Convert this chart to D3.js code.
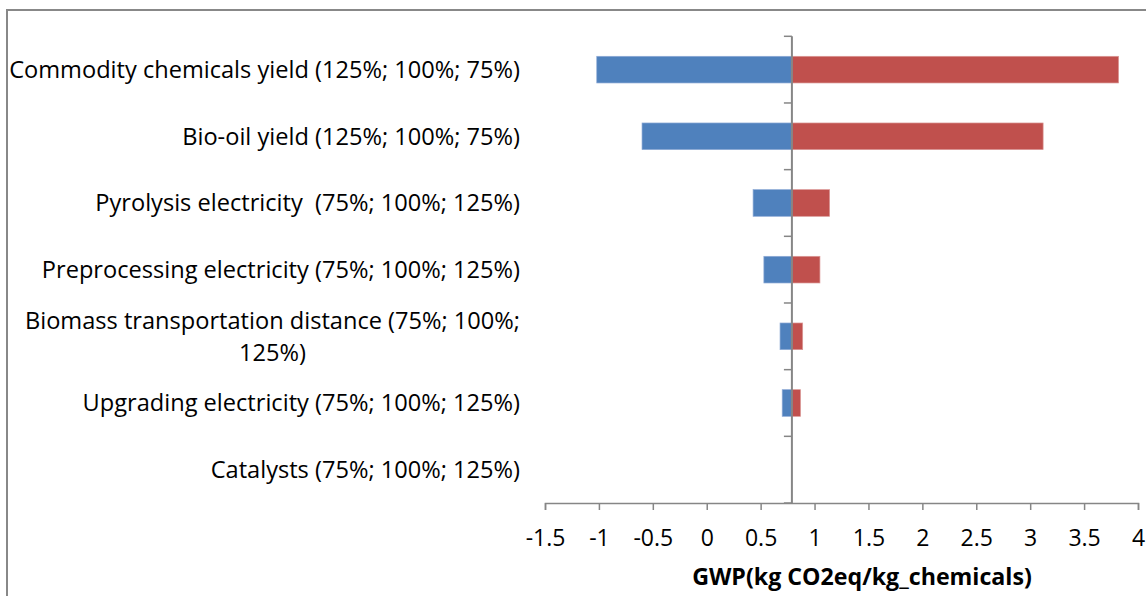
<!DOCTYPE html>
<html><head><meta charset="utf-8">
<script src="https://cdnjs.cloudflare.com/ajax/libs/d3/7.8.5/d3.min.js"></script>
<style>body{margin:0;background:#fff}svg{display:block}text{white-space:pre}</style>
</head><body>
<svg id="c" width="1146" height="596"></svg>
<script>
const categories = [
  "Commodity chemicals yield (125%; 100%; 75%)",
  "Bio-oil yield (125%; 100%; 75%)",
  "Pyrolysis electricity  (75%; 100%; 125%)",
  "Preprocessing electricity (75%; 100%; 125%)",
  "Biomass transportation distance (75%; 100%; 125%)",
  "Upgrading electricity (75%; 100%; 125%)",
  "Catalysts (75%; 100%; 125%)"
];
const labelLines = [
  ["Commodity chemicals yield (125%; 100%; 75%)"],
  ["Bio-oil yield (125%; 100%; 75%)"],
  ["Pyrolysis electricity  (75%; 100%; 125%)"],
  ["Preprocessing electricity (75%; 100%; 125%)"],
  ["Biomass transportation distance (75%; 100%;", "125%)"],
  ["Upgrading electricity (75%; 100%; 125%)"],
  ["Catalysts (75%; 100%; 125%)"]
];
const baseline = 0.79;
const lowValues  = [-1.02, -0.60, 0.43, 0.53, 0.68, 0.70, 0.79];
const highValues = [3.82, 3.12, 1.14, 1.05, 0.89, 0.87, 0.79];
const tickValues = [-1.5, -1, -0.5, 0, 0.5, 1, 1.5, 2, 2.5, 3, 3.5, 4];
const tickLabels = ["-1.5", "-1", "-0.5", "0", "0.5", "1", "1.5", "2", "2.5", "3", "3.5", "4"];
const axisTitle = "GWP(kg CO2eq/kg_chemicals)";

const svg = d3.select("#c");
const FONT = "'Open Sans', 'Liberation Sans', sans-serif";
const axisColor = "#868686";

// frame
svg.append("path").attr("d", "M7,597 L7,10 L1147,10")
  .attr("fill", "none").attr("stroke", "#888").attr("stroke-width", 2);

const x = d3.scaleLinear().domain([-1.5, 4]).range([545, 1138]);
const y = d3.scaleBand().domain(categories).range([36.3, 503]).paddingInner(0.6).paddingOuter(0.3);

// bars
const data = categories.map((c, i) => ({c, lo: lowValues[i], hi: highValues[i], lines: labelLines[i]}));
svg.append("g").selectAll("rect").data(data).join("rect")
  .attr("x", d => x(Math.min(d.lo, baseline)))
  .attr("width", d => Math.abs(x(baseline) - x(d.lo)))
  .attr("y", d => y(d.c)).attr("height", y.bandwidth())
  .attr("fill", "#4F81BD").attr("stroke", "#8EAAD6").attr("stroke-width", 0.7);
svg.append("g").selectAll("rect").data(data).join("rect")
  .attr("x", d => x(baseline))
  .attr("width", d => Math.abs(x(d.hi) - x(baseline)))
  .attr("y", d => y(d.c)).attr("height", y.bandwidth())
  .attr("fill", "#C0504D").attr("stroke", "#DA9896").attr("stroke-width", 0.7);

// x axis
const xAxis = d3.axisBottom(x).tickValues(tickValues).tickSize(7)
  .tickFormat((d, i) => tickLabels[i]);
const gx = svg.append("g").attr("transform", "translate(0,503)").call(xAxis);
gx.select(".domain").attr("stroke", axisColor).attr("stroke-width", 1.5);
gx.selectAll(".tick line").attr("stroke", axisColor).attr("stroke-width", 1.5);
gx.selectAll(".tick text").attr("fill", "#000").attr("font-family", FONT)
  .attr("font-size", 23).attr("dy", null).attr("y", 43);

// vertical category axis at baseline
const vx = x(baseline);
svg.append("line").attr("x1", vx).attr("x2", vx).attr("y1", y.range()[0]).attr("y2", 503)
  .attr("stroke", axisColor).attr("stroke-width", 2);
const step = y.step();
const boundaries = d3.range(categories.length + 1).map(i => y.range()[0] + i * step);
svg.append("g").selectAll("line").data(boundaries).join("line")
  .attr("x1", vx - 8).attr("x2", vx).attr("y1", d => d).attr("y2", d => d)
  .attr("stroke", axisColor).attr("stroke-width", 1.5);

// category labels
const lg = svg.append("g").attr("font-family", FONT).attr("font-size", 23.6).attr("fill", "#000");
data.forEach(d => {
  const cy = y(d.c) + y.bandwidth() / 2;
  const n = d.lines.length;
  const lh = 32;
  if (n === 1) {
    lg.append("text").attr("x", 520).attr("y", cy).attr("dy", "0.35em")
      .attr("text-anchor", "end").text(d.lines[0]);
  } else {
    const t1 = lg.append("text").attr("x", 520).attr("y", cy - lh / 2).attr("dy", "0.35em")
      .attr("text-anchor", "end").text(d.lines[0]);
    const w = t1.node().getComputedTextLength();
    lg.append("text").attr("x", 520 - w / 2).attr("y", cy + lh / 2).attr("dy", "0.35em")
      .attr("text-anchor", "middle").text(d.lines[1]);
  }
});

// axis title
svg.append("text").attr("x", 862).attr("y", 577).attr("dy", "0.35em")
  .attr("text-anchor", "middle").attr("font-family", FONT).attr("font-weight", "bold")
  .attr("font-size", 23.2).attr("fill", "#000").text(axisTitle);
</script>
</body></html>
